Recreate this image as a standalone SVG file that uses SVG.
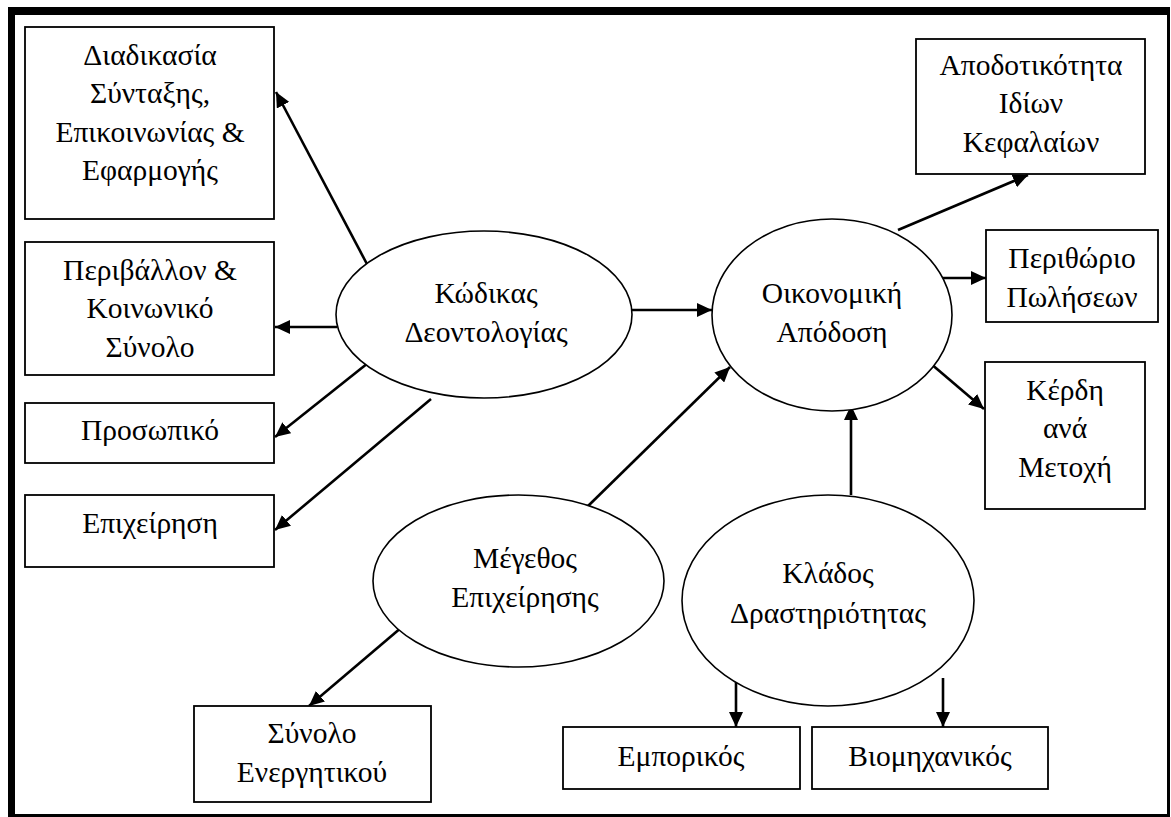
<svg xmlns="http://www.w3.org/2000/svg" width="1171" height="817" viewBox="0 0 1171 817">
<style>
.box{fill:#fff;stroke:#000;stroke-width:1.8}
.ell{fill:#fff;stroke:#000;stroke-width:1.6}
.t{font-family:'Liberation Serif','DejaVu Serif',serif;font-size:29.5px;fill:#000;text-anchor:middle}
.c{stroke:#000;stroke-width:2.6;fill:none;marker-end:url(#ah)}
</style>
<defs>
<marker id="ah" viewBox="0 0 15 14" refX="15" refY="7" markerWidth="15" markerHeight="14" markerUnits="userSpaceOnUse" orient="auto">
<path d="M0,0 L15,7 L0,14 Z" fill="#000"/>
</marker>
</defs>
<rect width="1171" height="817" fill="#fff"/>
<g id="frame" fill="#000">
<rect x="8" y="7" width="1162" height="8"/>
<rect x="8" y="7" width="7" height="810"/>
<rect x="1167" y="7" width="3" height="810"/>
<rect x="8" y="814" width="1162" height="3"/>
</g>
<g id="connectors">
<line class="c" x1="368" y1="266" x2="276" y2="92"/>
<line class="c" x1="337" y1="327" x2="275" y2="327"/>
<line class="c" x1="368" y1="363" x2="275" y2="437"/>
<line class="c" x1="431" y1="399" x2="275" y2="530"/>
<line class="c" x1="632" y1="310" x2="712" y2="310"/>
<line class="c" x1="898" y1="230" x2="1028" y2="175"/>
<line class="c" x1="942" y1="278" x2="986" y2="278"/>
<line class="c" x1="930" y1="363" x2="984" y2="409"/>
<line class="c" x1="586" y1="508" x2="730" y2="367"/>
<line class="c" x1="851" y1="495" x2="851" y2="405"/>
<line class="c" x1="402" y1="627" x2="309" y2="706"/>
<line class="c" x1="736" y1="678" x2="736" y2="727"/>
<line class="c" x1="943" y1="678" x2="943" y2="727"/>
</g>
<g id="n-diadikasia">
<rect class="box" x="25" y="27" width="249" height="192"/>
<text class="t" x="150" y="65">Διαδικασία</text>
<text class="t" x="150" y="103">Σύνταξης,</text>
<text class="t" x="150" y="142">Επικοινωνίας &amp;</text>
<text class="t" x="150" y="180">Εφαρμογής</text>
</g>
<g id="n-perivallon">
<rect class="box" x="25" y="242" width="249" height="133"/>
<text class="t" x="150" y="280">Περιβάλλον &amp;</text>
<text class="t" x="150" y="318">Κοινωνικό</text>
<text class="t" x="150" y="357">Σύνολο</text>
</g>
<g id="n-prosopiko">
<rect class="box" x="25" y="403" width="249" height="60"/>
<text class="t" x="150" y="440">Προσωπικό</text>
</g>
<g id="n-epixeirisi">
<rect class="box" x="25" y="495" width="249" height="72"/>
<text class="t" x="150" y="533">Επιχείρηση</text>
</g>
<g id="n-kodikas">
<ellipse class="ell" cx="484" cy="314.5" rx="148" ry="83.5"/>
<text class="t" x="486" y="303">Κώδικας</text>
<text class="t" x="486" y="342">Δεοντολογίας</text>
</g>
<g id="n-oikonomiki">
<ellipse class="ell" cx="832" cy="315" rx="120" ry="96"/>
<text class="t" x="832" y="303">Οικονομική</text>
<text class="t" x="832" y="342">Απόδοση</text>
</g>
<g id="n-apodotikotita">
<rect class="box" x="916" y="39" width="229" height="135"/>
<text class="t" x="1031" y="75">Αποδοτικότητα</text>
<text class="t" x="1031" y="113">Ιδίων</text>
<text class="t" x="1031" y="152">Κεφαλαίων</text>
</g>
<g id="n-perithorio">
<rect class="box" x="986" y="230" width="172" height="92"/>
<text class="t" x="1072" y="268">Περιθώριο</text>
<text class="t" x="1072" y="307">Πωλήσεων</text>
</g>
<g id="n-kerdi">
<rect class="box" x="985" y="362" width="160" height="147"/>
<text class="t" x="1065" y="400">Κέρδη</text>
<text class="t" x="1065" y="438">ανά</text>
<text class="t" x="1065" y="477">Μετοχή</text>
</g>
<g id="n-megethos">
<ellipse class="ell" cx="518.5" cy="581" rx="145.5" ry="86"/>
<text class="t" x="525" y="568">Μέγεθος</text>
<text class="t" x="525" y="607">Επιχείρησης</text>
</g>
<g id="n-klados">
<ellipse class="ell" cx="828" cy="600.5" rx="146" ry="105.5"/>
<text class="t" x="828" y="583">Κλάδος</text>
<text class="t" x="828" y="623">Δραστηριότητας</text>
</g>
<g id="n-synolo">
<rect class="box" x="194" y="706" width="237" height="96"/>
<text class="t" x="312" y="743">Σύνολο</text>
<text class="t" x="312" y="782">Ενεργητικού</text>
</g>
<g id="n-emporikos">
<rect class="box" x="563" y="727" width="237" height="62"/>
<text class="t" x="681" y="766">Εμπορικός</text>
</g>
<g id="n-viomixanikos">
<rect class="box" x="812" y="727" width="236" height="62"/>
<text class="t" x="930" y="766">Βιομηχανικός</text>
</g>
</svg>
